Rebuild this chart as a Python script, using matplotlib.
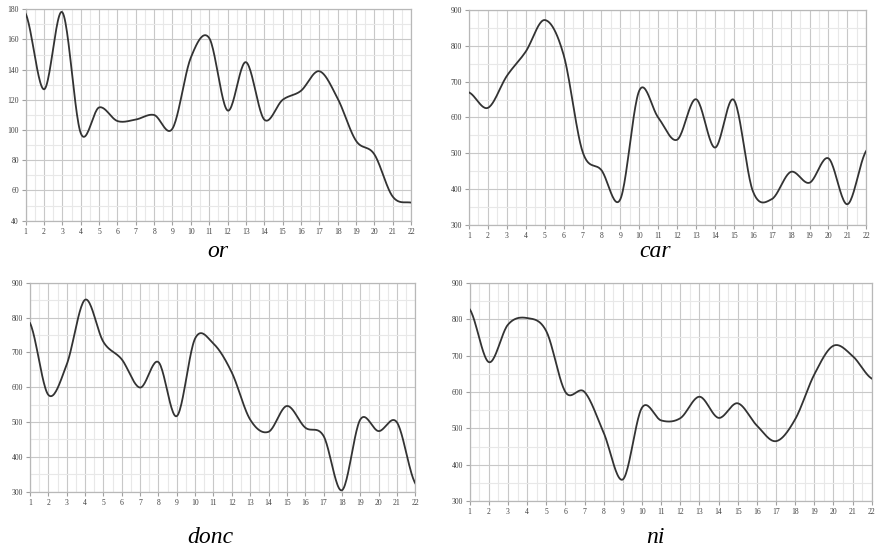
import numpy as np
import matplotlib.pyplot as plt

# values read at each integer position (1..22)
x = np.arange(1, 23)
or_vals = [177, 127, 178, 98, 115, 106, 107, 110, 101, 148, 161,
           113, 145, 107, 120, 126, 139, 121, 93, 84, 56, 52]
car_vals = [670, 627, 716, 784, 872, 775, 505, 453, 372, 675, 600,
            538, 651, 516, 649, 395, 372, 448, 418, 486, 358, 507]
donc_vals = [784, 578, 665, 851, 730, 680, 599, 672, 517, 740, 725,
             642, 507, 472, 546, 484, 460, 304, 507, 474, 499, 324]
ni_vals = [827, 682, 785, 803, 767, 600, 600, 488, 360, 557, 522,
           528, 587, 529, 569, 508, 465, 525, 648, 727, 699, 637]

titles = ['or', 'car', 'donc', 'ni']
series = [or_vals, car_vals, donc_vals, ni_vals]
ylims = [(40, 180, 20), (300, 900, 100), (300, 900, 100), (300, 900, 100)]

W, H = 876, 552
# axes boxes in pixels: left, right, top, bottom
boxes = [(25.7, 411, 9.3, 220.7),
         (469, 866.3, 10, 225),
         (30, 415.3, 282.7, 491.7),
         (469.7, 871.7, 282.7, 501.3)]
# label centres (x) and baselines (y) in pixels
label_pos = [(218, 257), (655, 257), (210, 543), (655, 543)]


def smooth(xs, ys, n=24):
    # Catmull-Rom curve through the points (spreadsheet "smoothed line")
    xs = np.asarray(xs, float)
    ys = np.asarray(ys, float)
    px = np.concatenate([[2 * xs[0] - xs[1]], xs, [2 * xs[-1] - xs[-2]]])
    py = np.concatenate([[ys[0]], ys, [ys[-1]]])
    outx, outy = [], []
    t = np.linspace(0, 1, n, endpoint=False)
    for i in range(1, len(px) - 2):
        for p, out in ((px, outx), (py, outy)):
            p0, p1, p2, p3 = p[i - 1], p[i], p[i + 1], p[i + 2]
            m1 = (p2 - p0) / 2
            m2 = (p3 - p1) / 2
            h00 = 2 * t**3 - 3 * t**2 + 1
            h10 = t**3 - 2 * t**2 + t
            h01 = -2 * t**3 + 3 * t**2
            h11 = t**3 - t**2
            out.extend(h00 * p1 + h10 * m1 + h01 * p2 + h11 * m2)
    outx.append(xs[-1])
    outy.append(ys[-1])
    return np.array(outx), np.array(outy)


fig = plt.figure(figsize=(W / 100, H / 100), dpi=100)

for vals, title, (y0, y1, step), (l, r, t, b), (lx, ly) in zip(
        series, titles, ylims, boxes, label_pos):
    ax = fig.add_axes([l / W, 1 - b / H, (r - l) / W, (b - t) / H])
    sx, sy = smooth(x, vals)
    ax.plot(sx, sy, color='#333333', linewidth=1.3, zorder=3)

    ax.set_xlim(1, 22)
    ax.set_ylim(y0, y1)
    ax.set_xticks(x)
    ax.set_xticks(np.arange(1.5, 22, 1), minor=True)
    ax.set_yticks(np.arange(y0, y1 + 1, step))
    ax.set_yticks(np.arange(y0 + step / 2, y1, step), minor=True)
    ax.grid(which='major', color='#c8c8c8', linewidth=0.8)
    ax.grid(which='minor', color='#e8e8e8', linewidth=0.8)
    ax.set_axisbelow(True)

    for s in ax.spines.values():
        s.set_color('#b8b8b8')
        s.set_linewidth(0.9)
    ax.tick_params(which='major', length=3, width=0.8, color='#a0a0a0',
                   labelsize=5.5, labelcolor='#404040', pad=2)
    ax.tick_params(which='minor', length=0)
    for lab in ax.get_xticklabels() + ax.get_yticklabels():
        lab.set_fontfamily('Liberation Serif')

    fig.text(lx / W, 1 - ly / H, title, ha='center', va='baseline',
             fontsize=17, fontstyle='italic', family='Liberation Serif')

fig.savefig('out.png', dpi=100)
